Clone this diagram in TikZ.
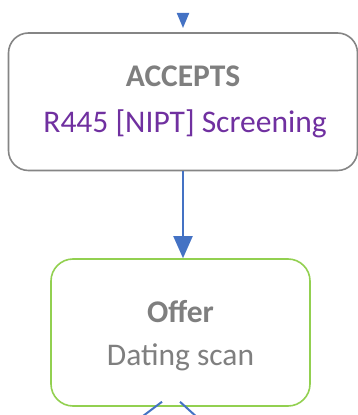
\documentclass[tikz,border=0pt]{standalone}
\usepackage{fontspec}
\setmainfont{Carlito}
\usetikzlibrary{arrows.meta,calc}
\definecolor{txtgray}{HTML}{7F7F7F}
\definecolor{boxgray}{HTML}{858585}
\definecolor{nhsblue}{HTML}{4472C4}
\definecolor{nhspurple}{HTML}{7030A0}
\definecolor{nhsgreen}{HTML}{92D050}
\tikzset{
  x=1pt, y=1pt,
  flowbox/.style={draw, rounded corners=20pt, line width=1.6pt, fill=white, inner sep=0pt},
  label/.style={font=\fontsize{31.5}{37}\selectfont, anchor=base, inner sep=0pt},
  flow/.style={draw=nhsblue, line width=2pt, -{Triangle[width=19pt,length=22pt]}},
}
\begin{document}
\begin{tikzpicture}
\useasboundingbox (0,0) rectangle (358,415);
\clip (0,0) rectangle (358,415);

% boxes
\node[flowbox, draw=boxgray, minimum width=349pt, minimum height=137.5pt] (accepts) at (183,313.25) {};
\node[flowbox, draw=nhsgreen, rounded corners=22pt, minimum width=259pt, minimum height=147pt] (offer) at (180.5,82.5) {};

% texts
\node[label, text=txtgray] (acceptsTitle) at (183,328) {\textbf{ACCEPTS}};
\node[label, text=nhspurple] (acceptsText) at (185,282) {R445 [NIPT] Screening};
\node[label, text=txtgray] (offerTitle) at (180.5,92) {\textbf{Offer}};
\node[label, text=txtgray] (offerText) at (180.5,49) {Dating scan};

% incoming arrow from above
\coordinate (inTop) at (183,402);
\draw[draw=nhsblue, line width=2pt, -{Triangle[width=12pt,length=15pt]}] (inTop) -- (accepts.north |- 0,387);

% accepts -> offer, kept vertical
\draw[flow] (accepts.south) -- (accepts.south |- offer.north);

% outgoing branches below
\coordinate (outL) at (139,-4);
\coordinate (outR) at (199,-4);
\draw[draw=nhsblue, line width=2pt] ($(offer.south)+(-18.5,5)$) -- (outL);
\draw[draw=nhsblue, line width=2pt] ($(offer.south)+(-0.5,5)$) -- (outR);
\end{tikzpicture}
\end{document}
